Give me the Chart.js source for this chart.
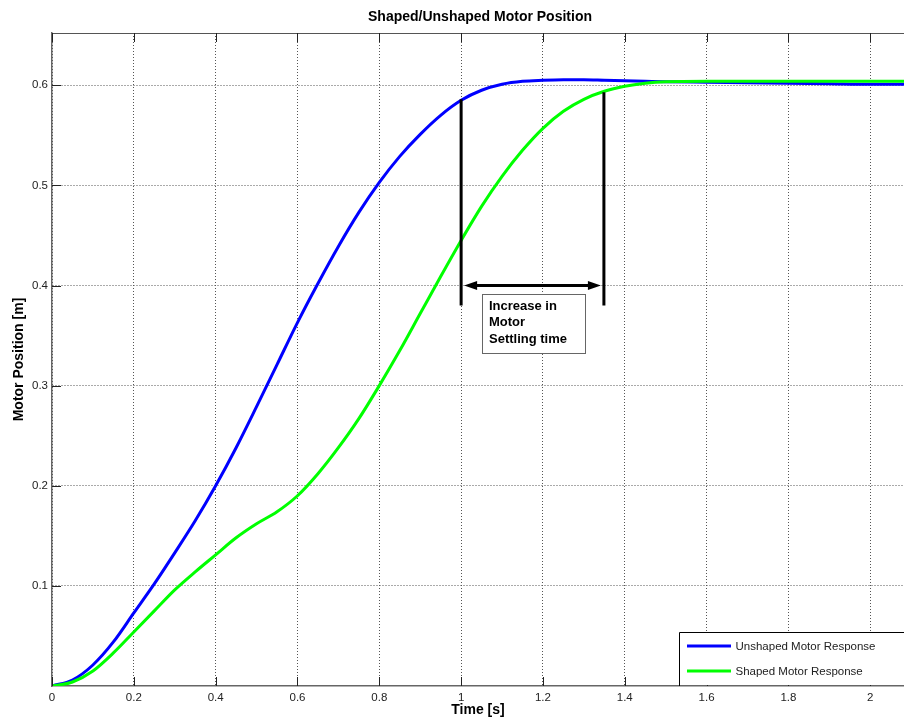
<!DOCTYPE html>
<html>
<head>
<meta charset="utf-8">
<title>Shaped/Unshaped Motor Position</title>
<script src="https://cdn.jsdelivr.net/npm/chart.js@4.4.1/dist/chart.umd.min.js"></script>
<style>
  html, body { margin: 0; padding: 0; background: #fff; }
  #wrap { width: 904px; height: 719px; position: relative; }
</style>
</head>
<body>
<div id="wrap"><canvas id="grafico"></canvas></div>
<script>
// valores
const tempo = [0, 0.05, 0.1, 0.15, 0.2, 0.25, 0.3, 0.35, 0.4, 0.45, 0.5, 0.55, 0.6, 0.65, 0.7, 0.75,
  0.8, 0.85, 0.9, 0.95, 1.0, 1.05, 1.1, 1.15, 1.2, 1.25, 1.3, 1.35, 1.4, 1.45, 1.5,
  1.6, 1.7, 1.8, 1.9, 2.0, 2.1];
const semFiltro = [0, 0.006, 0.021, 0.044, 0.073, 0.102, 0.133, 0.165, 0.200, 0.238, 0.279, 0.321,
  0.363, 0.402, 0.439, 0.473, 0.503, 0.529, 0.551, 0.570, 0.585, 0.595, 0.601, 0.604, 0.605, 0.6055,
  0.6055, 0.605, 0.6045, 0.604, 0.6035, 0.603, 0.6025, 0.602, 0.6015, 0.601, 0.601];
const comFiltro = [0, 0.004, 0.015, 0.033, 0.054, 0.075, 0.096, 0.114, 0.131, 0.148, 0.162, 0.174,
  0.190, 0.212, 0.238, 0.267, 0.300, 0.335, 0.372, 0.409, 0.445, 0.479, 0.509, 0.535, 0.557, 0.574,
  0.586, 0.594, 0.599, 0.602, 0.6035, 0.604, 0.604, 0.604, 0.604, 0.604, 0.604];
const ticksX = [0, 0.2, 0.4, 0.6, 0.8, 1, 1.2, 1.4, 1.6, 1.8, 2];
const ticksY = [0.1, 0.2, 0.3, 0.4, 0.5, 0.6];
const nomes = ['Unshaped Motor Response', 'Shaped Motor Response'];
const textoNota = ['Increase in', 'Motor', 'Settling time'];

const FONTE = '"Liberation Sans", Arial, Helvetica, sans-serif';

// título, marcas internas, caixa, anotação e legenda
const extras = {
  id: 'extras',
  afterDraw(chart) {
    const { ctx, chartArea: a, scales: { x, y } } = chart;
    ctx.save();

    // borda superior
    ctx.strokeStyle = '#555';
    ctx.lineWidth = 1;
    ctx.beginPath();
    ctx.moveTo(a.left, a.top + 0.5); ctx.lineTo(a.right, a.top + 0.5);
    ctx.stroke();

    // marcas para dentro
    ctx.strokeStyle = '#222';
    ticksX.forEach(v => {
      const px = Math.round(x.getPixelForValue(v)) + 0.5;
      ctx.beginPath();
      ctx.moveTo(px, a.bottom); ctx.lineTo(px, a.bottom - 9);
      ctx.moveTo(px, a.top); ctx.lineTo(px, a.top + 9);
      ctx.stroke();
    });
    ticksY.forEach(v => {
      const py = Math.round(y.getPixelForValue(v)) + 0.5;
      ctx.beginPath();
      ctx.moveTo(a.left, py); ctx.lineTo(a.left + 9, py);
      ctx.stroke();
    });

    // título
    ctx.fillStyle = '#000';
    ctx.font = 'bold 14px ' + FONTE;
    ctx.textAlign = 'center';
    ctx.textBaseline = 'middle';
    ctx.fillText('Shaped/Unshaped Motor Position', 480, 17);

    // linhas verticais da anotação
    ctx.strokeStyle = '#000';
    ctx.lineWidth = 3;
    const xa = x.getPixelForValue(1.0), xb = x.getPixelForValue(1.349);
    ctx.beginPath();
    ctx.moveTo(xa, y.getPixelForValue(0.586)); ctx.lineTo(xa, y.getPixelForValue(0.38));
    ctx.moveTo(xb, y.getPixelForValue(0.593)); ctx.lineTo(xb, y.getPixelForValue(0.38));
    ctx.stroke();

    // seta dupla
    const ya = y.getPixelForValue(0.4);
    const x1 = xa + 3, x2 = xb - 3;
    ctx.beginPath();
    ctx.moveTo(x1 + 8, ya); ctx.lineTo(x2 - 8, ya);
    ctx.stroke();
    ctx.fillStyle = '#000';
    ctx.beginPath();
    ctx.moveTo(x1, ya); ctx.lineTo(x1 + 13, ya - 4.5); ctx.lineTo(x1 + 13, ya + 4.5); ctx.closePath();
    ctx.moveTo(x2, ya); ctx.lineTo(x2 - 13, ya - 4.5); ctx.lineTo(x2 - 13, ya + 4.5); ctx.closePath();
    ctx.fill();

    // caixa de texto
    const bx1 = x.getPixelForValue(1.051), bx2 = x.getPixelForValue(1.303);
    const by1 = y.getPixelForValue(0.392), by2 = y.getPixelForValue(0.333);
    ctx.fillStyle = '#fff';
    ctx.fillRect(bx1, by1, bx2 - bx1, by2 - by1);
    ctx.lineWidth = 1;
    ctx.strokeStyle = '#666';
    ctx.strokeRect(Math.round(bx1) + 0.5, Math.round(by1) + 0.5, Math.round(bx2 - bx1), Math.round(by2 - by1));
    ctx.fillStyle = '#000';
    ctx.font = 'bold 13px ' + FONTE;
    ctx.textAlign = 'left';
    textoNota.forEach((t, i) => ctx.fillText(t, bx1 + 7, by1 + 12.5 + i * 16.5));

    // legenda (só borda de cima e da esquerda aparecem)
    const lx = 679.5, ly = 632.5;
    ctx.fillStyle = '#fff';
    ctx.fillRect(lx, ly, a.right - lx, a.bottom - ly - 1);
    ctx.strokeStyle = '#000';
    ctx.lineWidth = 1;
    ctx.beginPath();
    ctx.moveTo(lx, a.bottom); ctx.lineTo(lx, ly); ctx.lineTo(a.right, ly);
    ctx.stroke();
    ctx.font = '11.5px ' + FONTE;
    chart.data.datasets.forEach((d, i) => {
      const yy = 646 + i * 25;
      ctx.strokeStyle = d.borderColor;
      ctx.lineWidth = 3;
      ctx.beginPath();
      ctx.moveTo(687, yy); ctx.lineTo(731, yy);
      ctx.stroke();
      ctx.fillStyle = '#222';
      ctx.fillText(nomes[i], 735.5, yy + 1);
    });

    ctx.restore();
  }
};

const paraPontos = valores => tempo.map((t, i) => ({ x: t, y: valores[i] }));
const rotulo = v => String(Number(v.toFixed(2)));

new Chart(document.getElementById('grafico'), {
  type: 'line',
  plugins: [extras],
  data: {
    datasets: [
      { label: nomes[0], data: paraPontos(semFiltro), borderColor: '#0000ff', borderWidth: 3, order: 1 },
      { label: nomes[1], data: paraPontos(comFiltro), borderColor: '#00ff00', borderWidth: 3, order: 0 }
    ]
  },
  options: {
    responsive: true, maintainAspectRatio: false, animation: false,
    layout: { padding: { top: 33, right: 0, left: 0, bottom: 0 } },
    elements: { point: { radius: 0 }, line: { cubicInterpolationMode: 'monotone', fill: false } },
    plugins: { legend: { display: false }, tooltip: { enabled: false } },
    scales: {
      x: {
        type: 'linear', min: 0, max: 2.0825,
        afterBuildTicks: s => { s.ticks = ticksX.map(v => ({ value: v })); },
        afterFit: s => { s.height = 33; },
        grid: { color: '#555', drawTicks: false },
        border: { color: '#666', width: 1.5, dash: [1, 2] },
        ticks: { padding: 5, color: '#222', font: { size: 11.5, family: FONTE }, maxRotation: 0, callback: rotulo },
        title: { display: true, text: 'Time [s]', color: '#000', padding: 0, font: { size: 14, weight: 'bold', family: FONTE } }
      },
      y: {
        type: 'linear', min: 0, max: 0.6522,
        afterBuildTicks: s => { s.ticks = ticksY.map(v => ({ value: v })); },
        afterFit: s => { s.width = 52; },
        grid: { color: '#555', drawTicks: false },
        border: { color: '#666', width: 1.5, dash: [1, 2] },
        ticks: { padding: 4, color: '#222', font: { size: 11.5, family: FONTE }, callback: rotulo },
        title: { display: true, text: 'Motor Position [m]', color: '#000', padding: { top: 11, bottom: 0 }, font: { size: 14, weight: 'bold', family: FONTE } }
      }
    }
  }
});
</script>
</body>
</html>
